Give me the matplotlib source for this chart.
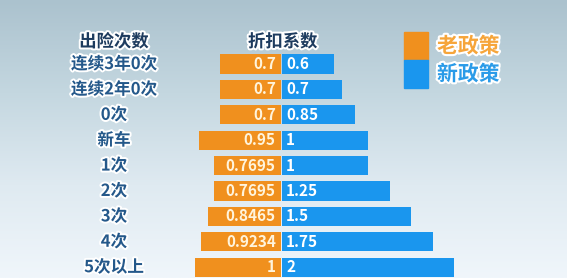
import numpy as np
import matplotlib
matplotlib.use("Agg")
import matplotlib.pyplot as plt
import matplotlib.patheffects as pe
from matplotlib.colors import LinearSegmentedColormap
from matplotlib.patches import Rectangle

plt.rcParams['font.family'] = ['Noto Sans CJK SC', 'DejaVu Sans']

# Claim-count categories and discount coefficients
categories = ["连续3年0次", "连续2年0次", "0次", "新车", "1次", "2次", "3次", "4次", "5次以上"]
old_policy = [0.7, 0.7, 0.7, 0.95, 0.7695, 0.7695, 0.8465, 0.9234, 1]
new_policy = [0.6, 0.7, 0.85, 1, 1, 1.25, 1.5, 1.75, 2]
old_labels = ["0.7", "0.7", "0.7", "0.95", "0.7695", "0.7695", "0.8465", "0.9234", "1"]
new_labels = ["0.6", "0.7", "0.85", "1", "1", "1.25", "1.5", "1.75", "2"]
header_left = "出险次数"
header_mid = "折扣系数"
legend_names = ["老政策", "新政策"]

ORANGE = "#f0901e"
BLUE = "#1a96ee"

W, H = 567, 278
fig = plt.figure(figsize=(W / 100, H / 100), dpi=100)

# soft vertical background gradient
bg = fig.add_axes([0, 0, 1, 1])
bg.set_axis_off()
cmap = LinearSegmentedColormap.from_list("bg", ["#abc2ce", "#c4d7e0", "#dfeaf1", "#f0f6fb"])
grad = np.linspace(0, 1, 256)[:, None] * np.ones((1, 64))
bg.imshow(grad, cmap=cmap, aspect="auto", extent=[0, 1, 0, 1], origin="upper")

ax = fig.add_axes([0, 0, 1, 1])
ax.set_facecolor("none")
ax.set_axis_off()

# zero line sits at x=281px, 86px per unit; rows 25.4px apart, first row at y=64px
scale, x0 = 86.0, 281.0
row, y0 = 25.4, 64.0
ax.set_xlim(-x0 / scale, (W - x0) / scale)
ax.set_ylim((H - y0) / row, -y0 / row)

ypos = np.arange(len(categories))
ax.barh(ypos, [-v for v in old_policy], height=0.76, color=ORANGE, left=-0.005)
ax.barh(ypos, new_policy, height=0.76, color=BLUE, left=0.012)

outline = [pe.withStroke(linewidth=2.8, foreground="white")]
label_x = (114 - x0) / scale
for i, (cat, ol, nl) in enumerate(zip(categories, old_labels, new_labels)):
    ax.text(label_x, i, cat, ha="center", va="center", fontsize=12,
            fontweight="bold", color="#24588a", path_effects=outline)
    ax.text(-0.06, i, ol, ha="right", va="center", fontsize=11,
            fontweight="bold", color="#fff4dc")
    ax.text(0.06, i, nl, ha="left", va="center", fontsize=11,
            fontweight="bold", color="white")

ax.text(label_x, -0.87, header_left, ha="center", va="center", fontsize=12.5,
        fontweight="bold", color="#1d3b5e", path_effects=outline)
ax.text(0.02, -0.87, header_mid, ha="center", va="center", fontsize=12.5,
        fontweight="bold", color="#1d3b5e", path_effects=outline)

# legend swatches and names
sw_x, sw_w, sw_h = 404 / W, 24 / W, 28 / H
for k, (name, col, tcol) in enumerate(zip(legend_names, [ORANGE, BLUE], ["#f6a53a", "#2a9be8"])):
    top = (32 + 28 * k) / H
    fig.patches.append(Rectangle((sw_x, 1 - top - sw_h), sw_w, sw_h,
                                 transform=fig.transFigure, color=col, zorder=3))
    fig.text(437 / W, 1 - (top + sw_h / 2), name, ha="left", va="center",
             fontsize=15, fontweight="bold", color=tcol,
             path_effects=[pe.withStroke(linewidth=3, foreground="white")])

fig.savefig("out.png", dpi=100)
